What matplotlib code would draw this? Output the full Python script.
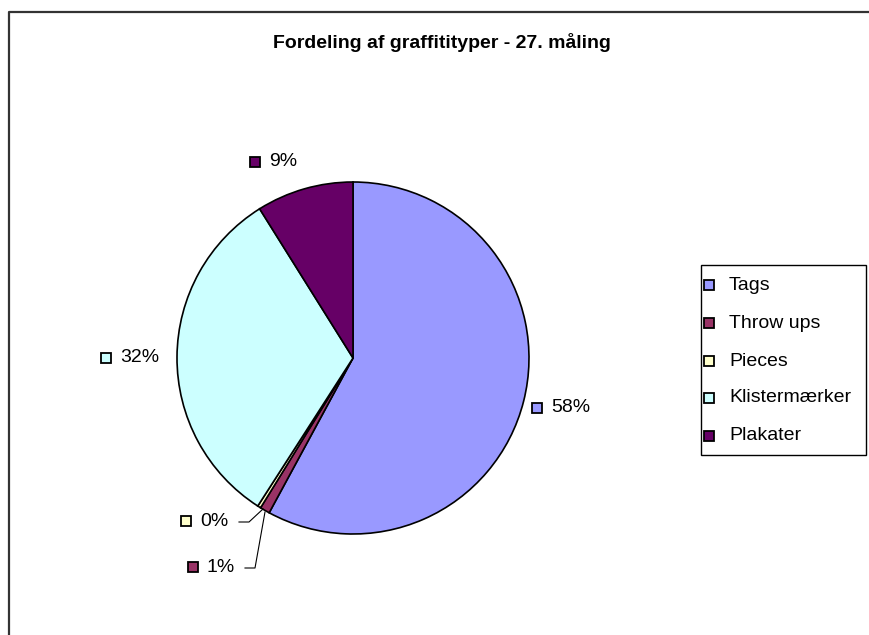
import matplotlib.pyplot as plt
from matplotlib.patches import Rectangle

# data
categories = ['Tags', 'Throw ups', 'Pieces', 'Klistermærker', 'Plakater']
values = [57.9, 0.9, 0.3, 32.0, 8.9]
pct_labels = ['58%', '1%', '0%', '32%', '9%']
colors = ['#9999FF', '#993366', '#FFFFCC', '#CCFFFF', '#660066']
title = 'Fordeling af graffitityper - 27. måling'

plt.rcParams['font.family'] = ['Liberation Sans', 'DejaVu Sans']

W, H = 870, 635
fig = plt.figure(figsize=(W / 100, H / 100), dpi=100)
ax = fig.add_axes([0, 0, 1, 1])

# outer chart frame (only top and left edges are visible in the crop)
ax.plot([9, 9, W], [H, 12, 12], color='#333333', lw=1.6, solid_capstyle='butt')

ax.text(442, 43, title, ha='center', va='center', fontsize=14, fontweight='bold')

# pie (y axis inverted -> counterclock=True draws clockwise on screen)
cx, cy, r = 353, 358, 176
wedges, _ = ax.pie(values, colors=colors, startangle=-90, counterclock=True,
                   center=(cx, cy), radius=r, frame=True,
                   wedgeprops=dict(edgecolor='black', linewidth=1.2))
ax.set_xlim(0, W)
ax.set_ylim(H, 0)
ax.axis('off')

# percentage labels with colour keys
label_pos = [(537, 408), (193, 567), (186, 521), (106, 358), (255, 162)]
for (x, y), txt, c in zip(label_pos, pct_labels, colors):
    ax.add_patch(Rectangle((x - 5, y - 5), 10, 10, fc=c, ec='black', lw=1.3))
    ax.text(x + 14, y, txt, ha='left', va='center', fontsize=14)

# leader lines for the small slices
ax.plot([239, 249, 263], [522, 522, 509], color='black', lw=0.8)
ax.plot([245, 255, 265], [568, 568, 512], color='black', lw=0.8)

# legend
ax.add_patch(Rectangle((701, 265), 165, 190, fill=False, lw=1, ec='black'))
leg_y = [285, 323, 361, 398, 436]
for y, name, c in zip(leg_y, categories, colors):
    ax.add_patch(Rectangle((704, y - 5), 10, 10, fc=c, ec='black', lw=1.3))
    ax.text(729, y, name, ha='left', va='center', fontsize=14)

fig.savefig('out.png', dpi=100)
